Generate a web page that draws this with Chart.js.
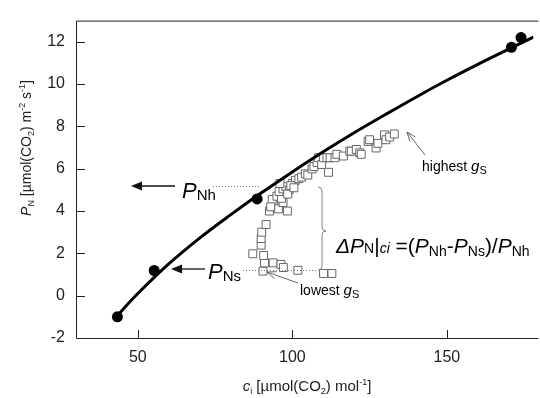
<!DOCTYPE html>
<html><head><meta charset="utf-8">
<script src="https://cdn.jsdelivr.net/npm/chart.js@4.4.1/dist/chart.umd.min.js"></script>
<style>html,body{margin:0;padding:0;background:#fff;overflow:hidden}</style>
</head><body><canvas id="c" width="540" height="398"></canvas>
<script>
// ---- data ----
const xTicks = [50, 100, 150];
const yTicks = [-2, 0, 2, 4, 6, 8, 10, 12];
const curveX = [43, 50, 60, 70, 80, 90, 100, 110, 120, 130, 140, 150, 160, 170, 178];
const curveY = [-1.0, 0.1, 1.5, 2.72, 3.82, 4.86, 5.85, 6.8, 7.7, 8.55, 9.38, 10.18, 10.93, 11.65, 12.22];
const dotX = [43.4, 55.3, 88.6, 170.9, 174.0];
const dotY = [-1.0, 1.19, 4.57, 11.74, 12.2];
const sqX = [90.5, 101.8, 110.1, 112.8, 91.0, 93.8, 96.3, 97.1, 90.7, 87.2, 89.9, 89.9, 90.1, 91.5,
  92.6, 94.0, 95.5, 97.0, 98.4, 93.5, 95.0, 96.5, 93.0,
  95.7, 97.0, 97.9, 99.0, 100.0, 101.0, 102.1, 103.0, 104.2, 105.0, 106.4, 107.0, 108.0, 108.5, 109.5,
  110.1, 111.2, 111.7, 112.2, 113.8, 114.4, 116.5, 118.6, 119.1, 120.7, 121.8, 122.3, 124.5, 125.0,
  127.1, 127.7, 129.8, 130.3, 131.5, 133.0, 98.5, 99.5, 100.5, 96.0];
const sqY = [1.16, 1.2, 1.05, 1.05, 1.55, 1.55, 1.48, 1.33, 1.9, 1.98, 2.39, 2.7, 3.0, 3.36,
  4.0, 4.3, 4.1, 4.4, 4.0, 4.55, 4.7, 4.6, 4.2,
  4.92, 5.05, 5.15, 5.0, 5.3, 5.45, 5.53, 5.6, 5.76, 5.7, 5.99, 6.1, 6.29, 6.52, 6.2,
  6.52, 6.52, 5.83, 6.52, 6.52, 6.68, 6.6, 6.83, 6.83, 6.91, 6.75, 6.68, 7.29, 7.37,
  6.98, 7.2, 7.6, 7.37, 7.5, 7.64, 4.8, 5.2, 5.1, 5.3];

const FONT = '"Liberation Sans", Arial, Helvetica, sans-serif';
const toPts = (xs, ys) => xs.map((x, i) => ({x, y: ys[i]}));

function rich(ctx, x, y, segs, color) {
  ctx.save();
  ctx.fillStyle = color || '#000';
  ctx.textBaseline = 'alphabetic';
  ctx.textAlign = 'left';
  let cx = x;
  for (const s of segs) {
    ctx.font = (s[2] ? 'italic ' : '') + s[1] + 'px ' + FONT;
    ctx.fillText(s[0], cx, y + (s[3] || 0));
    cx += ctx.measureText(s[0]).width;
  }
  ctx.restore();
  return cx - x;
}
function richWidth(ctx, segs) {
  let w = 0;
  for (const s of segs) { ctx.font = (s[2] ? 'italic ' : '') + s[1] + 'px ' + FONT; w += ctx.measureText(s[0]).width; }
  return w;
}
function filledArrow(ctx, x1, y1, x2, y2) {
  ctx.save();
  ctx.strokeStyle = '#111'; ctx.fillStyle = '#111'; ctx.lineWidth = 1.3;
  const a = Math.atan2(y2 - y1, x2 - x1), L = 11, W = 4.5;
  const bx = x2 - L * Math.cos(a), by = y2 - L * Math.sin(a);
  ctx.beginPath(); ctx.moveTo(x1, y1); ctx.lineTo(bx, by); ctx.stroke();
  ctx.beginPath(); ctx.moveTo(x2, y2);
  ctx.lineTo(bx + W * Math.sin(a), by - W * Math.cos(a));
  ctx.lineTo(bx - W * Math.sin(a), by + W * Math.cos(a));
  ctx.closePath(); ctx.fill();
  ctx.restore();
}
function openArrow(ctx, x1, y1, x2, y2) {
  ctx.save();
  ctx.strokeStyle = '#555'; ctx.lineWidth = 0.9;
  const a = Math.atan2(y2 - y1, x2 - x1), L = 9, W = 3.5;
  const bx = x2 - L * Math.cos(a), by = y2 - L * Math.sin(a);
  ctx.beginPath(); ctx.moveTo(x1, y1); ctx.lineTo(x2, y2); ctx.stroke();
  ctx.beginPath();
  ctx.moveTo(bx + W * Math.sin(a), by - W * Math.cos(a));
  ctx.lineTo(x2, y2);
  ctx.lineTo(bx - W * Math.sin(a), by + W * Math.cos(a));
  ctx.stroke();
  ctx.restore();
}
function dotted(ctx, x1, y1, x2, y2) {
  ctx.save(); ctx.strokeStyle = '#777'; ctx.lineWidth = 1; ctx.setLineDash([1, 2]);
  ctx.beginPath(); ctx.moveTo(x1, y1); ctx.lineTo(x2, y2); ctx.stroke(); ctx.restore();
}

const frame = {
  id: 'frame',
  beforeDatasetsDraw(chart) {
    const {ctx, chartArea: a, scales: {x, y}} = chart;
    ctx.save();
    ctx.strokeStyle = '#222'; ctx.lineWidth = 1;
    ctx.beginPath();
    ctx.moveTo(a.right + 5, a.top + 0.5); ctx.lineTo(a.left + 0.5, a.top + 0.5);
    ctx.lineTo(a.left + 0.5, a.bottom + 0.5); ctx.lineTo(a.right + 5, a.bottom + 0.5);
    ctx.stroke();
    ctx.beginPath();
    for (const v of xTicks) { const p = Math.round(x.getPixelForValue(v)) + 0.5; ctx.moveTo(p, a.bottom); ctx.lineTo(p, a.bottom - 8); }
    for (const v of yTicks) { if (v === -2) continue; const p = Math.round(y.getPixelForValue(v)) + 0.5; ctx.moveTo(a.left, p); ctx.lineTo(a.left + 9, p); }
    ctx.stroke();
    ctx.restore();
  },
  afterDatasetsDraw(chart) {
    const {ctx} = chart;
    const yt = [['P', 14, true], ['N', 9, false, 3], [' [µmol(CO', 14], ['2', 9, false, 3], [') m', 14], ['-2', 9, false, -6], [' s', 14], ['-1', 9, false, -6], [']', 14]];
    ctx.save();
    ctx.translate(31, 148); ctx.rotate(-Math.PI / 2);
    const yw = richWidth(ctx, yt);
    rich(ctx, -yw / 2, 0, yt, '#222');
    ctx.restore();
    const xt = [['c', 15, true], ['i', 9, false, 3], [' [µmol(CO', 15], ['2', 9, false, 3], [') mol', 15], ['-1', 9, false, -6], [']', 15]];
    const xw = richWidth(ctx, xt);
    rich(ctx, 307 - xw / 2, 391, xt, '#222');

    filledArrow(ctx, 175, 186, 131, 186);
    rich(ctx, 182, 198, [['P', 22, true], ['Nh', 15, false, 2]]);
    dotted(ctx, 213, 186.5, 259, 186.5);
    filledArrow(ctx, 205, 269, 171, 269);
    rich(ctx, 208, 279, [['P', 22, true], ['Ns', 15, false, 2]]);
    dotted(ctx, 243, 270.5, 318, 270.5);
    ctx.save(); ctx.strokeStyle = '#888'; ctx.lineWidth = 1;
    ctx.beginPath();
    ctx.moveTo(318, 187); ctx.quadraticCurveTo(322, 187, 322, 191);
    ctx.lineTo(322, 227); ctx.quadraticCurveTo(322, 231, 326, 231);
    ctx.quadraticCurveTo(322, 231, 322, 235);
    ctx.lineTo(322, 266); ctx.quadraticCurveTo(322, 270, 318, 270);
    ctx.stroke(); ctx.restore();
    rich(ctx, 336, 253, [['Δ', 21, true], ['P', 21, true], ['N', 14, false, 0], ['|', 21], ['ci', 14, true, 0],
      [' =(', 21], ['P', 21, true], ['Nh', 14, false, 3], ['-', 21], ['P', 21, true], ['Ns', 14, false, 3],
      [')/', 21], ['P', 21, true], ['Nh', 14, false, 3]]);
    openArrow(ctx, 425, 155, 407, 132);
    rich(ctx, 422, 171, [['highest ', 14], ['g', 15, true], ['S', 11, false, 3]]);
    openArrow(ctx, 298, 283, 267, 272);
    rich(ctx, 300, 295, [['lowest ', 14], ['g', 15, true], ['S', 11, false, 3]]);
  }
};

new Chart(document.getElementById('c'), {
  type: 'scatter',
  data: {
    datasets: [
      {data: toPts(dotX, dotY), pointStyle: 'circle', pointRadius: 5.5, backgroundColor: '#000', borderColor: '#000', borderWidth: 0, showLine: false},
      {data: toPts(curveX, curveY), showLine: true, borderColor: '#000', borderWidth: 3, pointRadius: 0, tension: 0.4, fill: false},
      {data: toPts(sqX, sqY), pointStyle: 'rect', pointRadius: 5.6, backgroundColor: '#fff', borderColor: '#666', borderWidth: 1, showLine: false}
    ]
  },
  options: {
    responsive: false, animation: false, events: [],
    layout: {padding: {top: 11, right: 0, left: 0, bottom: 0}},
    plugins: {legend: {display: false}, tooltip: {enabled: false}},
    scales: {
      x: {
        type: 'linear', min: 30, max: 178,
        afterBuildTicks: s => { s.ticks = xTicks.map(v => ({value: v})); },
        afterFit: s => { s.height = 60; },
        grid: {display: false, drawTicks: false}, border: {display: false},
        ticks: {padding: 10, color: '#222', font: {family: FONT, size: 16}, callback: v => String(v)}
      },
      y: {
        type: 'linear', min: -2, max: 13,
        afterBuildTicks: s => { s.ticks = yTicks.map(v => ({value: v})); },
        afterFit: s => { s.width = 76; },
        grid: {display: false, drawTicks: false}, border: {display: false},
        ticks: {padding: 11, color: '#222', font: {family: FONT, size: 16}, callback: v => String(v)}
      }
    }
  },
  plugins: [frame]
});
</script></body></html>
